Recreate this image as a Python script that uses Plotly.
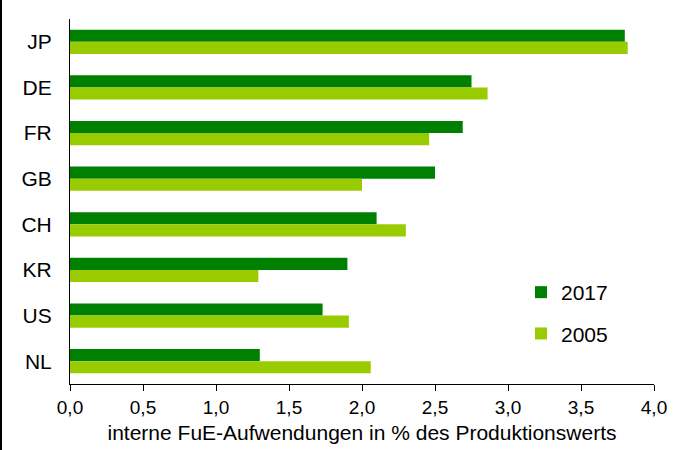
import plotly.graph_objects as go

countries = ["JP", "DE", "FR", "GB", "CH", "KR", "US", "NL"]
v2017 = [3.80, 2.75, 2.69, 2.50, 2.10, 1.90, 1.73, 1.30]
v2005 = [3.82, 2.86, 2.46, 2.00, 2.30, 1.29, 1.91, 2.06]
xticks = [0, 0.5, 1.0, 1.5, 2.0, 2.5, 3.0, 3.5, 4.0]
xticklabels = ["0,0", "0,5", "1,0", "1,5", "2,0", "2,5", "3,0", "3,5", "4,0"]

fig = go.Figure()
fig.add_trace(go.Bar(y=countries, x=v2017, name="2017", orientation="h",
                     marker=dict(color="#008000", line=dict(width=0)), legendgroup="a"))
fig.add_trace(go.Bar(y=countries, x=v2005, name="2005", orientation="h",
                     marker=dict(color="#99CC00", line=dict(width=0)), legendgroup="b"))

W, H = 685, 450
ml, mr, mt, mb = 70, 31, 19, 66
pw, ph = W - ml - mr, H - mt - mb

fig.update_layout(
    width=W, height=H,
    margin=dict(l=ml, r=mr, t=mt, b=mb, pad=0, autoexpand=False),
    paper_bgcolor="white", plot_bgcolor="white",
    barmode="group", bargap=0.47, bargroupgap=0,
    font=dict(family="Liberation Sans, Arial, sans-serif", size=20, color="black"),
    showlegend=True,
    legend=dict(x=(521 - ml) / pw, y=(ph + mt - 272) / ph, xanchor="left", yanchor="top",
                bgcolor="rgba(0,0,0,0)", font=dict(size=21), tracegroupgap=11,
                itemwidth=30),
    xaxis=dict(range=[0, 4.0], tickvals=xticks, ticktext=xticklabels, automargin=False,
               showgrid=False, zeroline=False, showline=True, linecolor="black",
               linewidth=1, ticks="outside", ticklen=6, tickcolor="black",
               tickfont=dict(size=19),
               title=dict(text="interne FuE-Aufwendungen in % des Produktionswerts",
                          font=dict(size=21), standoff=8)),
    yaxis=dict(autorange="reversed", showgrid=False, zeroline=False, showline=True,
               automargin=False,
               linecolor="black", linewidth=1, ticks="", ticklabelstandoff=13,
               tickfont=dict(size=21)),
)

fig.add_shape(type="line", xref="paper", yref="paper",
              x0=-(ml - 1) / pw, x1=-(ml - 1) / pw, y0=-mb / ph, y1=(ph + mt) / ph,
              line=dict(color="black", width=2))

fig.write_html("out.html", config={"displayModeBar": False},
               post_script="document.body.style.margin='0';document.body.style.padding='0';")
